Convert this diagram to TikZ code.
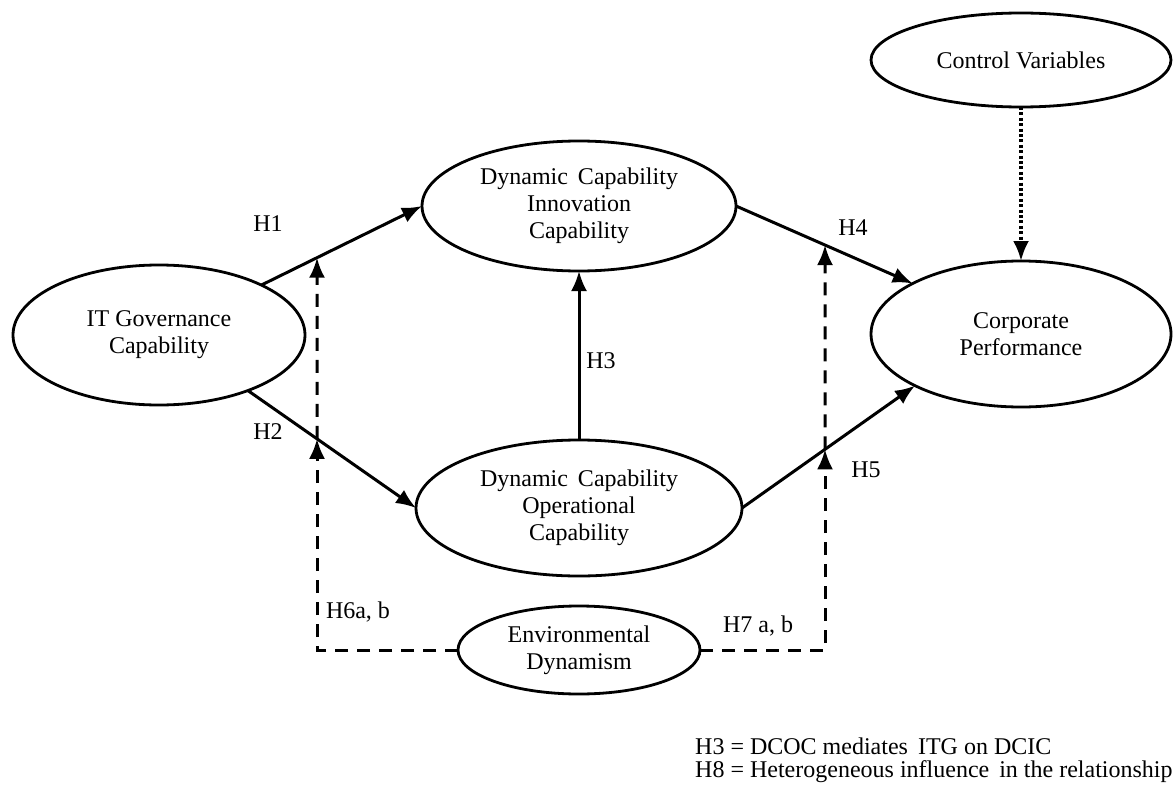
\documentclass[tikz,border=0pt]{standalone}
\usepackage{fontspec}
\setmainfont{Liberation Serif}
\usetikzlibrary{shapes.geometric,arrows.meta,intersections}
\begin{document}
\begin{tikzpicture}[x=1pt,y=-1pt,
  every node/.style={font=\fontsize{24}{27}\selectfont, text=black},
  var/.style={ellipse, draw, line width=2.8pt, inner sep=0pt, outer sep=0pt, align=center},
  tipstyle/.style={-{Latex[length=20pt,width=16pt]}},
  arr/.style={line width=3pt, tipstyle},
  darr/.style={line width=3pt, dash pattern=on 13pt off 9pt, tipstyle},
  dotarr/.style={line width=3.4pt, dash pattern=on 3pt off 2.4pt, tipstyle},
  lab/.style={inner sep=0pt}]
\useasboundingbox[fill=white] (0,0) rectangle (1174,789);

% variables
\node[var, minimum width=292pt, minimum height=140pt] (itg) at (159,335) {IT Governance\\Capability};
\node[var, minimum width=314pt, minimum height=130pt] (inn) at (579,206) {Dynamic\, Capability\\Innovation\\Capability};
\node[var, minimum width=326pt, minimum height=136pt] (op) at (579,508) {Dynamic\, Capability\\Operational\\Capability};
\node[var, minimum width=300pt, minimum height=146pt] (corp) at (1021,334) {Corporate\\Performance};
\node[var, minimum width=300pt, minimum height=94pt] (ctrl) at (1021,60) {Control Variables};
\node[var, minimum width=242pt, minimum height=88pt] (env) at (579,650) {Environmental\\Dynamism};

% main paths
\draw[arr, name path=h1] (itg.26) -- (inn.west);
\draw[arr, name path=h2] (itg.-32) -- (op.west);
\draw[arr] (op.north) -- (inn.south);
\draw[arr, name path=h4] (inn.east) -- (corp.155);
\draw[arr, name path=h5] (op.east) -- (corp.206);
\draw[dotarr] (ctrl.south) -- (corp.north);

% moderation helpers
\coordinate (cl) at (317,700);
\coordinate (cr) at (825,700);
\path[name path=vl] (cl) -- ++(0,-600);
\path[name path=vr] (cr) -- ++(0,-600);
\path[name intersections={of=h1 and vl, by=x1}];
\path[name intersections={of=h2 and vl, by=x2}];
\path[name intersections={of=h4 and vr, by=x4}];
\path[name intersections={of=h5 and vr, by=x5}];

\draw[darr] (env.west) -| (x2);
\draw[darr] (x2) -- (x1);
\draw[darr] (env.east) -| (x5);
\draw[darr] (x5) -- (x4);

% labels
\node[lab] (l1) at (268,224) {H1};
\node[lab] (l2) at (268,432) {H2};
\node[lab] (l3) at (601,361) {H3};
\node[lab] (l4) at (853,228) {H4};
\node[lab] (l5) at (866,470) {H5};
\node[lab] (l6) at (358,612) {H6a, b};
\node[lab] (l7) at (758,626) {H7 a, b};

% legend
\node[lab, anchor=west] (n1) at (695,746) {H3 = DCOC mediates\, ITG on DCIC};
\node[lab, anchor=west] (n2) at (695,772) {H8 = Heterogeneous influence\, in the relationship};
\end{tikzpicture}
\end{document}
